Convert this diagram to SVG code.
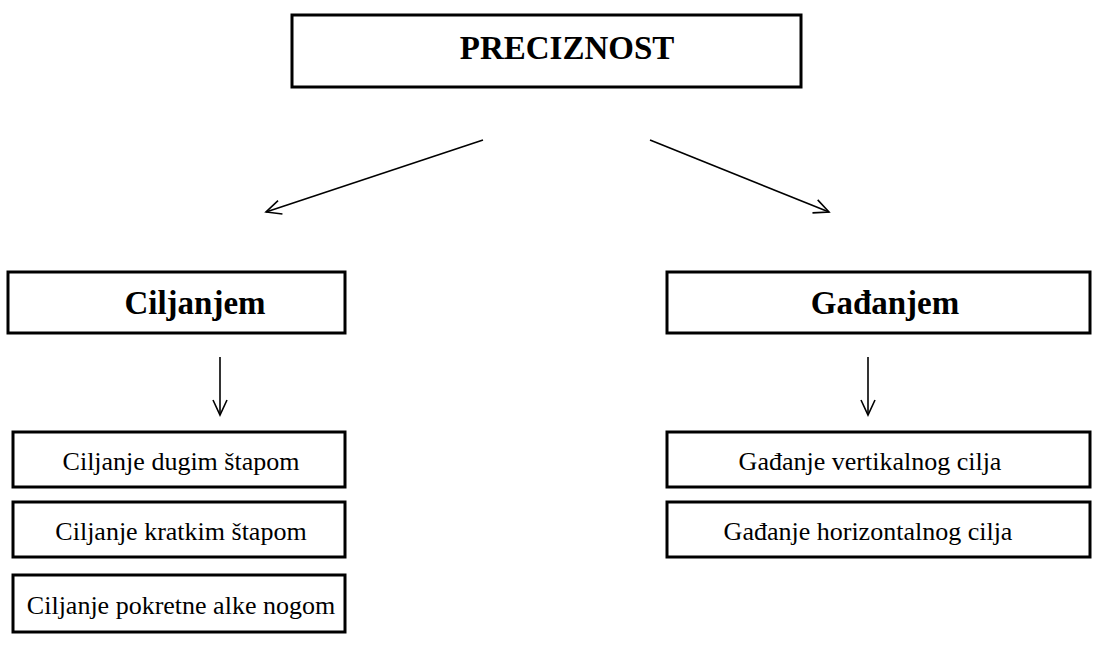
<svg xmlns="http://www.w3.org/2000/svg" width="1094" height="661" viewBox="0 0 1094 661">
<style>
.box{fill:#fff;stroke:#000;stroke-width:3}
.hd{font-family:"Liberation Serif","Times New Roman",serif;font-weight:bold;font-size:33px;text-anchor:middle;fill:#000}
.tx{font-family:"Liberation Serif","Times New Roman",serif;font-size:26px;text-anchor:middle;fill:#000}
.ln{stroke:#000;stroke-width:1.6;fill:none;marker-end:url(#ah)}
</style>
<defs>
<marker id="ah" markerUnits="userSpaceOnUse" markerWidth="20" markerHeight="20" refX="16" refY="8" orient="auto" viewBox="0 0 20 16">
<path d="M1,1 L16,8 L1,15" fill="none" stroke="#000" stroke-width="1.6"/>
</marker>
</defs>
<rect width="1094" height="661" fill="#fff"/>
<g id="connectors">
<line class="ln" x1="483" y1="140" x2="266" y2="212"/>
<line class="ln" x1="650" y1="140" x2="829" y2="212"/>
<line class="ln" x1="220" y1="357" x2="220" y2="415"/>
<line class="ln" x1="868" y1="357" x2="868" y2="415"/>
</g>
<g id="preciznost"><rect class="box" x="292" y="15" width="509" height="72"/><text class="hd" x="567" y="59">PRECIZNOST</text></g>
<g id="ciljanjem"><rect class="box" x="8" y="272" width="337" height="61"/><text class="hd" x="195" y="314">Ciljanjem</text></g>
<g id="gadjanjem"><rect class="box" x="667" y="272" width="423" height="61"/><text class="hd" x="885" y="314">Gađanjem</text></g>
<g id="c1"><rect class="box" x="13" y="432" width="332" height="55"/><text class="tx" x="181" y="470">Ciljanje dugim štapom</text></g>
<g id="c2"><rect class="box" x="13" y="502" width="332" height="55"/><text class="tx" x="181" y="540">Ciljanje kratkim štapom</text></g>
<g id="c3"><rect class="box" x="13" y="575" width="332" height="57"/><text class="tx" x="181" y="614">Ciljanje pokretne alke nogom</text></g>
<g id="g1"><rect class="box" x="667" y="432" width="423" height="55"/><text class="tx" x="870" y="470">Gađanje vertikalnog cilja</text></g>
<g id="g2"><rect class="box" x="667" y="502" width="423" height="55"/><text class="tx" x="868" y="540">Gađanje horizontalnog cilja</text></g>
</svg>
